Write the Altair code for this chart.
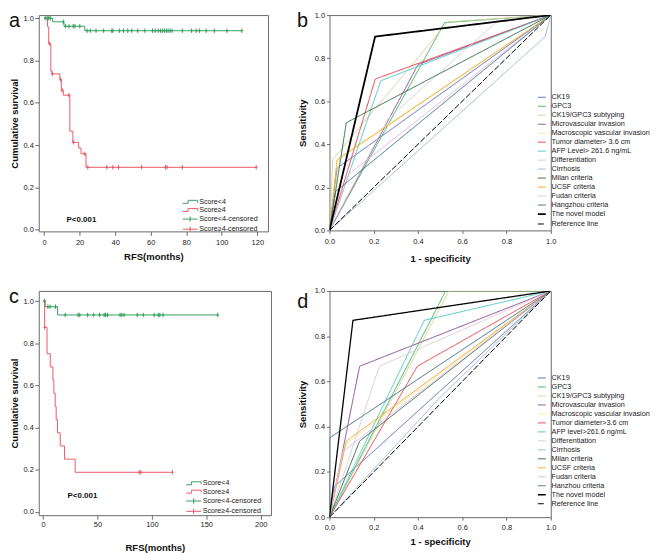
import altair as alt
import pandas as pd

FONT = "Liberation Sans"
GREEN = "#3a9f62"
RED = "#ea5b66"
FRAME = "#6b6b6b"

KM_LABELS = ["Score<4", "Score\u22654", "Score<4-censored", "Score\u22654-censored"]
KM_SHAPES = ["M-2.5,0.5H-0.7V-0.5H2.5V0.3", "M-2.5,0.5H-0.7V-0.5H2.5V0.3",
             "M-2.5,0H2.5M0,-0.9V0.9", "M-2.5,0H2.5M0,-0.9V0.9"]
CENS_PATH = "M0,-1V1M-0.6,0H0.6"

# ---------------- panel a (Kaplan-Meier) ----------------
A_LOW_T = [0, 4.8, 11.2, 22.9, 111.3]
A_LOW_S = [1.0, 0.983, 0.962, 0.941, 0.941]
A_LOW_CENS = [0.6, 1.7, 2.6, 3.5, 10.8, 12.1, 14.0, 16.4, 17.3, 20.1, 24.2, 26.0, 29.2,
              33.5, 38.1, 38.7, 42.4, 44.7, 47.1, 49.3, 52.7, 56.7, 61.0, 62.5, 64.2,
              65.5, 66.6, 67.7, 68.8, 69.8, 70.9, 72.0, 77.8, 83.0, 85.6, 87.4, 91.2,
              95.8, 102.9, 111.3]
A_HIGH_T = [0, 1.9, 2.6, 3.8, 4.4, 8.9, 9.7, 10.8, 14.5, 16.2, 19.5, 20.8, 23.6, 119.4]
A_HIGH_S = [1.0, 0.96, 0.88, 0.75, 0.737, 0.71, 0.66, 0.636, 0.466, 0.413, 0.386,
            0.359, 0.295, 0.295]
A_HIGH_CENS = [3.1, 4.7, 9.3, 10.1, 14.0, 16.5, 22.9, 24.6, 35.3, 38.7, 41.9, 54.9,
               68.3, 69.2, 77.8, 119.4]

# ---------------- panel c (Kaplan-Meier) ----------------
C_LOW_T = [0, 2.0, 13.4, 160.5]
C_LOW_S = [1.0, 0.973, 0.934, 0.934]
C_LOW_CENS = [1.5, 4.5, 6.5, 11.5, 20.4, 32.2, 33.7, 41.0, 46.5, 52.0, 56.2, 57.5, 59.3,
              70.8, 72.3, 74.5, 86.6, 92.1, 102.1, 105.8, 107.3, 110.3, 160.5]
C_HIGH_T = [0, 1.5, 3.7, 6.7, 9.1, 10.0, 11.2, 12.1, 13.3, 15.8, 19.8, 29.5, 118.8]
C_HIGH_S = [1.0, 0.875, 0.75, 0.6875, 0.625, 0.5625, 0.5, 0.4375, 0.375, 0.3125, 0.25,
            0.1875, 0.1875]
C_HIGH_CENS = [1.6, 88.4, 90.0, 118.8]

# ---------------- ROC curves ----------------
ROC_COLORS = ["#5b6bb5", "#3db552", "#d3cf9f", "#8b4a9c", "#f5ec98", "#e8434b",
              "#52c6c8", "#d9cdd3", "#9ab8d8", "#2f6e44", "#f2a42c", "#e2b6ea",
              "#3b6f8f", "#000000", "#000000"]

B_NAMES = ["CK19", "GPC3", "CK19/GPC3 subtyping", "Microvascular invasion",
           "Macroscopic vascular invasion", "Tumor diameter> 3.6 cm",
           "AFP Level> 261.6 ng/mL", "Differentiation", "Cirrhosis", "Milan criteria",
           "UCSF criteria", "Fudan criteria", "Hangzhou criteria", "The novel model",
           "Reference line"]
B_FPR = [[0, 0.035, 1], [0, 0.52, 1], [0, 0.015, 0.535, 1], [0, 0.40, 1], [0, 0.045, 1],
         [0, 0.207, 1], [0, 0.232, 1], [0, 0.266, 0.753, 1], [0, 0.975, 1],
         [0, 0.076, 1], [0, 0.034, 1], [0, 0.087, 1], [0, 0.027, 1], [0, 0.206, 1],
         [0, 1]]
B_TPR = [[0, 0.29, 1], [0, 0.965, 1], [0, 0.33, 0.968, 1], [0, 0.77, 1], [0, 0.34, 1],
         [0, 0.703, 1], [0, 0.695, 1], [0, 0.52, 0.966, 1], [0, 0.90, 1],
         [0, 0.50, 1], [0, 0.327, 1], [0, 0.26, 1], [0, 0.18, 1], [0, 0.90, 1],
         [0, 1]]
B_WIDTHS = [1] * 13 + [1.8, 1]

D_NAMES = ["CK19", "GPC3", "CK19/GPC3 subtyping", "Microvascular invasion",
           "Macroscopic vascular invasion", "Tumor diameter>3.6 cm",
           "AFP level>261.6 ng/mL", "Differentiation", "Cirrhosis", "Milan criteria",
           "UCSF criteria", "Fudan criteria", "Hanzhou criteria", "The novel model",
           "Reference line"]
D_FPR = [[0, 0.02, 1], [0, 0.525, 1], [0, 0.54, 1], [0, 0.136, 1], [0, 0.07, 1],
         [0, 0.397, 1], [0, 0.428, 1], [0, 0.225, 1], [0, 0.5, 1], [0, 0.136, 1],
         [0, 0.076, 1], [0, 0.06, 1], [0, 0.0, 1], [0, 0.106, 1], [0, 1]]
D_TPR = [[0, 0.133, 1], [0, 1.0, 1], [0, 1.0, 1], [0, 0.667, 1], [0, 0.32, 1],
         [0, 0.667, 1], [0, 0.87, 1], [0, 0.667, 1], [0, 0.53, 1], [0, 0.336, 1],
         [0, 0.336, 1], [0, 0.29, 1], [0, 0.35, 1], [0, 0.87, 1], [0, 1]]
D_WIDTHS = [1] * 13 + [1.3, 1]

ROC_DASHES = [[1, 0]] * 14 + [[6, 2]]
TICKS01 = [0, 0.2, 0.4, 0.6, 0.8, 1.0]


def step_level(ts, ss, t):
    lvl = ss[0]
    for ti, si in zip(ts, ss):
        if ti <= t:
            lvl = si
    return lvl


def text_layer(txt, x, y, size, weight="normal", align="center", baseline="middle"):
    return alt.Chart(pd.DataFrame({"txt": [txt]})).mark_text(
        font=FONT, fontSize=size, fontWeight=weight, align=align, baseline=baseline,
        color="#111111").encode(text="txt:N", x=alt.value(x), y=alt.value(y))


def km_panel(lo_t, lo_s, lo_c, hi_t, hi_s, hi_c, xdom, xticks, ydom, w, h,
             letter, letter_xy, p_xy, leg_xy, lab_pad, title_y, row_pad):
    lo = pd.DataFrame({"t": lo_t, "s": lo_s})
    hi = pd.DataFrame({"t": hi_t, "s": hi_s})
    lo_cdf = pd.DataFrame({"t": lo_c, "s": [step_level(lo_t, lo_s, t) for t in lo_c]})
    hi_cdf = pd.DataFrame({"t": hi_c, "s": [step_level(hi_t, hi_s, t) for t in hi_c]})
    X = alt.X("t:Q", scale=alt.Scale(domain=xdom, nice=False, zero=False),
              axis=alt.Axis(values=xticks, format="d", title="RFS(months)",
                            labelPadding=lab_pad, titleY=title_y, titleBaseline="top",
                            tickSize=4, labelFlush=False))
    Y = alt.Y("s:Q", scale=alt.Scale(domain=ydom, nice=False, zero=False),
              axis=alt.Axis(values=TICKS01, format=".1f", title="Cumulative survival",
                            labelPadding=1.5, titlePadding=3, tickSize=4,
                            labelFlush=False))
    line_lo = alt.Chart(lo).mark_line(interpolate="step-after", color=GREEN,
                                      strokeWidth=1).encode(X, Y)
    line_hi = alt.Chart(hi).mark_line(interpolate="step-after", color=RED,
                                      strokeWidth=1).encode(X, Y)
    cens_lo = alt.Chart(lo_cdf).mark_point(shape=CENS_PATH, filled=False, size=20,
                                           strokeWidth=1, color=GREEN,
                                           opacity=1).encode(X, Y)
    cens_hi = alt.Chart(hi_cdf).mark_point(shape=CENS_PATH, filled=False, size=20,
                                           strokeWidth=1, color=RED,
                                           opacity=1).encode(X, Y)
    km_leg = alt.Legend(title=None, orient="none", legendX=leg_xy[0], legendY=leg_xy[1],
                        labelFont=FONT, labelFontSize=7.2, labelColor="#222222",
                        symbolOpacity=1, symbolStrokeWidth=1, symbolSize=36,
                        rowPadding=row_pad, labelOffset=5.5, padding=0)
    leg = alt.Chart(pd.DataFrame({"lab": KM_LABELS})).mark_point(
        filled=False, size=36, strokeWidth=1, opacity=0).encode(
        x=alt.value(w / 2), y=alt.value(h / 2),
        color=alt.Color("lab:N", scale=alt.Scale(domain=KM_LABELS,
                                                 range=[GREEN, RED, GREEN, RED]),
                        legend=km_leg),
        shape=alt.Shape("lab:N", scale=alt.Scale(domain=KM_LABELS, range=KM_SHAPES),
                        legend=km_leg))
    ptxt = text_layer("P<0.001", p_xy[0], p_xy[1], 8, weight="bold")
    ltxt = text_layer(letter, letter_xy[0], letter_xy[1], 20, align="left",
                      baseline="top")
    return alt.layer(line_lo, line_hi, cens_lo, cens_hi, leg, ptxt, ltxt).properties(
        width=w, height=h)


def roc_panel(names, fprs, tprs, widths, w, h, letter, letter_xy, leg_xy, lab_pad,
              title_y):
    rows = []
    for n, fx, ty in zip(names, fprs, tprs):
        for i, (a, b) in enumerate(zip(fx, ty)):
            rows.append({"curve": n, "fpr": a, "tpr": b, "i": i})
    df = pd.DataFrame(rows)
    leg = alt.Legend(title=None, orient="none", legendX=leg_xy[0], legendY=leg_xy[1],
                     symbolType="M-2.3,0H2.3", symbolSize=12, labelFont=FONT,
                     labelFontSize=7.3, labelColor="#222222", rowPadding=1.05,
                     labelOffset=6.2, padding=0)
    lines = alt.Chart(df).mark_line(clip=True).encode(
        x=alt.X("fpr:Q", scale=alt.Scale(domain=[0, 1], nice=False, zero=False),
                axis=alt.Axis(values=TICKS01, format=".1f", title="1 - specificity",
                              labelPadding=lab_pad, titleY=title_y, titleBaseline="top",
                              tickSize=3, labelFlush=False)),
        y=alt.Y("tpr:Q", scale=alt.Scale(domain=[0, 1], nice=False, zero=False),
                axis=alt.Axis(values=TICKS01, format=".1f", title="Sensitivity",
                              labelPadding=2, titlePadding=7, tickSize=3,
                              labelFlush=False)),
        color=alt.Color("curve:N", scale=alt.Scale(domain=names, range=ROC_COLORS),
                        legend=leg),
        strokeDash=alt.StrokeDash("curve:N", scale=alt.Scale(domain=names,
                                                             range=ROC_DASHES),
                                  legend=leg),
        strokeWidth=alt.StrokeWidth("curve:N", scale=alt.Scale(type="ordinal",
                                                               domain=names,
                                                               range=widths),
                                    legend=leg),
        order=alt.Order("i:Q"),
    )
    ltxt = text_layer(letter, letter_xy[0], letter_xy[1], 20, align="left",
                      baseline="top")
    return alt.layer(lines, ltxt).properties(width=w, height=h)


panel_a = km_panel(A_LOW_T, A_LOW_S, A_LOW_CENS, A_HIGH_T, A_HIGH_S, A_HIGH_CENS,
                   [-3, 126], [0, 20, 40, 60, 80, 100, 120], [-0.008, 1.015], 231, 218,
                   "a", (-30, -4), (43, 207), (149, 184.6), 3, 20.2, -0.8)
panel_b = roc_panel(B_NAMES, B_FPR, B_TPR, B_WIDTHS, 223, 217, "b", (-32.7, -3.5),
                    (210.3, 79.2), 4, 23.5)
panel_c = km_panel(C_LOW_T, C_LOW_S, C_LOW_CENS, C_HIGH_T, C_HIGH_S, C_HIGH_CENS,
                   [-3.9, 209.4], [0, 50, 100, 150, 200], [-0.016, 1.048], 234, 226,
                   "c", (-30, -4), (44, 207), (152.5, 190.3), 1.5, 27.2, -0.6)
panel_d = roc_panel(D_NAMES, D_FPR, D_TPR, D_WIDTHS, 223, 228, "d", (-32.4, 1.5),
                    (210.3, 84.1), 3, 19.2)

RES = dict(color="independent", shape="independent", strokeDash="independent",
           strokeWidth="independent")

row1 = alt.hconcat(panel_a, panel_b, spacing=27).resolve_scale(**RES)
row2 = alt.hconcat(panel_c, panel_d, spacing=25).resolve_scale(**RES)

chart = alt.vconcat(row1, row2, spacing=22).resolve_scale(**RES).properties(
    padding=0
).configure(font=FONT).configure_view(
    stroke=FRAME, strokeWidth=1
).configure_axis(
    grid=False, domain=False, tickColor=FRAME, labelFont=FONT, labelFontSize=7.5,
    labelColor="#222222", titleFont=FONT, titleFontSize=9.6, titleFontWeight="bold",
    titleColor="#111111"
)

chart.save("out.html", embed_options={"renderer": "svg", "actions": False})
